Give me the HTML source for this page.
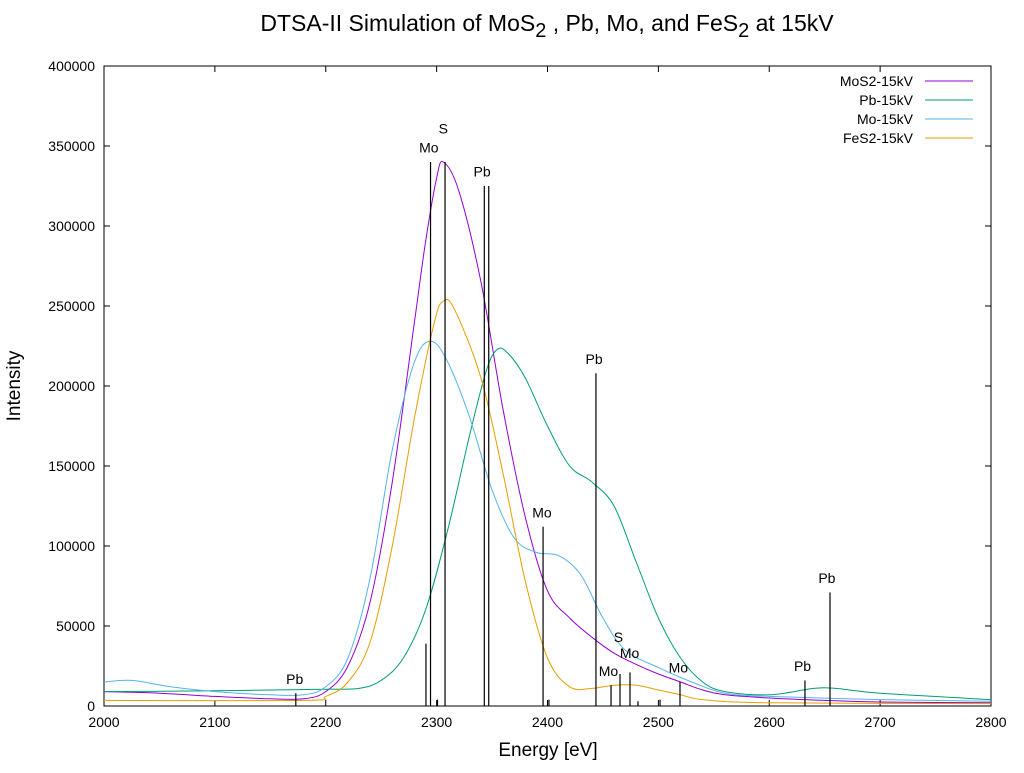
<!DOCTYPE html>
<html><head><meta charset="utf-8"><style>
body{margin:0;background:#fff;}
svg{font-family:"Liberation Sans",Arial,sans-serif;}
</style></head><body>
<svg id="chart" width="1024" height="768" viewBox="0 0 1024 768">
<text x="547" y="31" text-anchor="middle" font-size="23">DTSA-II Simulation of MoS<tspan font-size="20" dy="6">2</tspan><tspan dy="-6"> , Pb, Mo, and FeS</tspan><tspan font-size="20" dy="6">2</tspan><tspan dy="-6">  at 15kV</tspan></text>
<g id="axes"></g>
<g id="marks"></g>
<text x="548" y="756" text-anchor="middle" font-size="19">Energy [eV]</text>
<text transform="translate(20,386) rotate(-90)" text-anchor="middle" font-size="19">Intensity</text>
</svg>
<script>
const xTicks=[2000,2100,2200,2300,2400,2500,2600,2700,2800];
const yTicks=[0,50000,100000,150000,200000,250000,300000,350000,400000];
const seriesNames=["MoS2-15kV","Pb-15kV","Mo-15kV","FeS2-15kV"];
const seriesColors=["#9400d3","#009e73","#56b4e9","#e69f00"];
const mos2E=[2000,2050,2100,2150,2180,2200,2220,2240,2260,2280,2290,2300,2306,2320,2340,2360,2380,2400,2420,2440,2460,2480,2500,2520,2540,2560,2600,2650,2700,2800];
const mos2I=[9000,8000,6000,4500,4500,9000,25000,65000,140000,240000,290000,330000,340000,322000,265000,185000,118000,72000,55000,43000,33000,26000,20000,15000,10000,7000,5000,3500,2500,2000];
const pbE=[2000,2100,2150,2200,2230,2250,2270,2290,2310,2330,2345,2355,2365,2380,2400,2420,2440,2460,2480,2500,2520,2540,2560,2600,2640,2660,2700,2800];
const pbI=[9000,9500,10000,10500,11000,16000,30000,60000,110000,170000,210000,223000,220000,205000,175000,150000,140000,125000,90000,55000,30000,15000,9000,7000,11000,11000,8000,4000];
const moE=[2000,2025,2060,2100,2150,2180,2200,2220,2240,2260,2280,2295,2310,2330,2350,2370,2390,2410,2430,2450,2470,2500,2530,2560,2600,2700,2800];
const moI=[15000,16000,12000,9000,7000,7000,12000,30000,80000,160000,215000,228000,215000,180000,135000,105000,96000,94000,82000,55000,35000,24000,15000,8000,6000,4000,3000];
const fes2E=[2000,2180,2200,2220,2240,2260,2280,2298,2306,2316,2340,2360,2380,2400,2420,2440,2460,2480,2500,2520,2540,2600,2800];
const fes2I=[3500,3500,6000,15000,40000,100000,180000,240000,253000,248000,205000,145000,78000,30000,12000,11000,13000,13000,10000,7000,4000,2000,1500];
const lineE=[2173,2290.4,2294.5,2300.8,2307.6,2343,2347,2396,2401.3,2443.7,2457.3,2465.4,2474.4,2481.6,2501.5,2519.5,2632.2,2654.8];
const lineI=[8000,39000,340000,4000,340000,325000,325000,112000,4000,208000,13000,20000,21000,3000,4000,15000,16000,71000];
const labelText=["Pb","Mo","S","Pb","Mo","Pb","Mo","S","Mo","Mo","Pb","Pb"];
const labelE=[2172,2293,2306,2341,2395,2442,2455,2464,2474,2518,2630,2652];
const labelI=[17000,349000,361000,334000,121000,217000,22000,43000,33000,24000,25000,80000];
const X0=104,X1=991,Y0=706,Y1=66;
const sx=e=>X0+(e-2000)/800*(X1-X0);
const sy=v=>Y0-v/400000*(Y0-Y1);
const NS="http://www.w3.org/2000/svg";
function mk(t,a,p){const el=document.createElementNS(NS,t);for(const k in a)el.setAttribute(k,a[k]);p.appendChild(el);return el;}
const axes=document.getElementById('axes'),marks=document.getElementById('marks');
const frame=mk('rect',{x:X0,y:Y1,width:X1-X0,height:Y0-Y1,fill:'none',stroke:'#000','stroke-width':1},axes);


xTicks.forEach(t=>{const x=sx(t);
 const l=mk('path',{d:`M${x},${Y0}v-6M${x},${Y1}v6`,stroke:'#000'},axes);
 
 
 const tx=mk('text',{x:x,y:Y0+21,'text-anchor':'middle','font-size':14},axes);tx.textContent=t;
 
 });
yTicks.forEach(t=>{const y=sy(t);
 const l=mk('path',{d:`M${X0},${y}h6M${X1},${y}h-6`,stroke:'#000'},axes);
 
 
 const tx=mk('text',{x:X0-9,y:y+5,'text-anchor':'end','font-size':14},axes);tx.textContent=t;
 
 });
function smoothPath(E,I){const p=E.map((e,i)=>[sx(e),sy(I[i])]);let d=`M${p[0][0]},${p[0][1]}`;
 for(let i=0;i<p.length-1;i++){const a=p[i-1]||p[i],b=p[i],c=p[i+1],n=p[i+2]||c;
  const c1=[b[0]+(c[0]-a[0])/6,b[1]+(c[1]-a[1])/6],c2=[c[0]-(n[0]-b[0])/6,c[1]-(n[1]-b[1])/6];
  d+=`C${c1[0]},${c1[1]} ${c2[0]},${c2[1]} ${c[0]},${c[1]}`;}return d;}
const sE=[mos2E,pbE,moE,fes2E],sI=[mos2I,pbI,moI,fes2I];
for(let k=0;k<4;k++){const p=mk('path',{d:smoothPath(sE[k],sI[k]),fill:'none',stroke:seriesColors[k],'stroke-width':1},marks);
 
 
 const ly=81+k*19;
 const lt=mk('text',{x:913,y:ly+5,'text-anchor':'end','font-size':14},marks);lt.textContent=seriesNames[k];
 
 
 const ll=mk('line',{x1:925,x2:973,y1:ly,y2:ly,stroke:seriesColors[k],'stroke-width':1},marks);
 
 }
lineE.forEach((e,i)=>{const l=mk('line',{x1:sx(e),x2:sx(e),y1:Y0,y2:sy(lineI[i]),stroke:'#000','stroke-width':1.2},marks);
 
 });
labelText.forEach((t,i)=>{const tx=mk('text',{x:sx(labelE[i]),y:sy(labelI[i])+5,'text-anchor':'middle','font-size':14},marks);tx.textContent=t;
 
 });
</script>
</body></html>
